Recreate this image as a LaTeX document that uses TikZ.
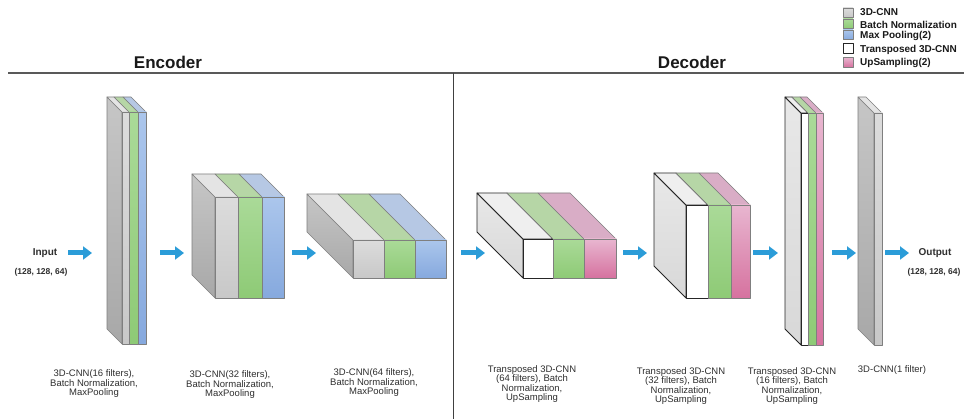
\documentclass[tikz,border=0pt]{standalone}
\usepackage{fontspec}
\setmainfont{Liberation Sans}
\usetikzlibrary{arrows.meta}
\definecolor{arrowblue}{HTML}{2B9CD8}
\definecolor{edgec}{HTML}{7F7F7F}
\definecolor{txt}{HTML}{2F2F2F}
\definecolor{gsA}{HTML}{C6C6C6}\definecolor{gsB}{HTML}{A8A8A8}
\definecolor{gfA}{HTML}{DCDCDC}\definecolor{gfB}{HTML}{C8C8C8}
\definecolor{gtA}{HTML}{E4E4E4}
\definecolor{nfA}{HTML}{AADA98}\definecolor{nfB}{HTML}{8ECA76}
\definecolor{ntA}{HTML}{B6D6A6}
\definecolor{bfA}{HTML}{ABC6EC}\definecolor{bfB}{HTML}{86A9DE}
\definecolor{btA}{HTML}{B6C8E4}
\definecolor{wsA}{HTML}{E8E8E8}\definecolor{wsB}{HTML}{D8D8D8}
\definecolor{wtA}{HTML}{EFEFEF}
\definecolor{pfA}{HTML}{E8B6D0}\definecolor{pfB}{HTML}{D6729F}
\definecolor{ptA}{HTML}{D9ADC6}
\newcommand\slab[6]{%
  \path[#6top] (#1,#3) -- (#1-#5,#3-#5) -- (#2-#5,#3-#5) -- (#2,#3) -- cycle;
  \path[#6front] (#1,#3) rectangle (#2,#4);}
\newcommand\slabside[5]{%
  \path[#5side] (#1,#2) -- (#1-#4,#2-#4) -- (#1-#4,#3-#4) -- (#1,#3) -- cycle;}
\tikzset{
  edge/.style={draw=edgec, line width=0.6pt, line join=round},
  wedge/.style={draw=black!85, line width=0.8pt, line join=round},
  Gside/.style={edge, top color=gsA, bottom color=gsB},
  Gfront/.style={edge, top color=gfA, bottom color=gfB},
  Gtop/.style={edge, fill=gtA},
  Nfront/.style={edge, top color=nfA, bottom color=nfB},
  Ntop/.style={edge, fill=ntA},
  Bfront/.style={edge, top color=bfA, bottom color=bfB},
  Btop/.style={edge, fill=btA},
  Wside/.style={wedge, top color=wsA, bottom color=wsB},
  Wfront/.style={wedge, fill=white},
  Wtop/.style={wedge, fill=wtA},
  Pfront/.style={edge, top color=pfA, bottom color=pfB},
  Ptop/.style={edge, fill=ptA},
  arr/.style={draw=arrowblue, line width=5pt, -{Triangle[width=13pt,length=9pt]}},
  lbl/.style={text=txt, font=\fontsize{9.5}{9.5}\selectfont, align=center, inner sep=0pt},
  hdr/.style={text=black!90, font=\fontsize{17}{17}\selectfont\bfseries, inner sep=0pt},
  io/.style={text=txt, font=\fontsize{10}{10}\selectfont\bfseries, inner sep=0pt},
  dim/.style={text=txt, font=\fontsize{8.5}{8.5}\selectfont\bfseries, inner sep=0pt},
  leg/.style={text=black!90, font=\fontsize{10}{10}\selectfont\bfseries, anchor=west, inner sep=0pt},
}
\begin{document}
\begin{tikzpicture}[x=1pt,y=-1pt]
\useasboundingbox[fill=white] (0,0) rectangle (964,419);
% frame lines
\coordinate (hl) at (8,73); \coordinate (hr) at (964,73);
\coordinate (vt) at (453,73); \coordinate (vb) at (453,419);
\draw[draw=black!65, line width=1.6pt] (hl) -- (hr);
\draw[draw=black!75, line width=1pt] (vt) -- (vb);
% headers
\node[hdr] (enc) at (168,62) {Encoder};
\node[hdr] (dec) at (692,62) {Decoder};
% legend
\path[Gfront] (843,8) rectangle (853,17);
\path[Nfront] (843,19) rectangle (853,28.5);
\path[Bfront] (843,30) rectangle (853,39.5);
\path[Wfront, line width=0.6pt] (843,43.5) rectangle (853,53);
\path[Pfront] (843,57.5) rectangle (853,67);
\node[leg] (l1) at (860,12) {3D-CNN};
\node[leg] (l2) at (860,24.5) {Batch Normalization};
\node[leg] (l3) at (860,36) {Max Pooling(2)};
\node[leg] (l4) at (860,49.5) {Transposed 3D-CNN};
\node[leg] (l5) at (860,62.5) {UpSampling(2)};
% block 1
\slabside{122}{112}{344}{15}{G}
\slab{122}{129}{112}{344}{15}{G}
\slab{129}{138}{112}{344}{15}{N}
\slab{138}{146}{112}{344}{15}{B}
% block 2
\slabside{215}{197}{298}{23}{G}
\slab{215}{238}{197}{298}{23}{G}
\slab{238}{262}{197}{298}{23}{N}
\slab{262}{284}{197}{298}{23}{B}
% block 3
\slabside{353}{240}{278}{46}{G}
\slab{353}{384}{240}{278}{46}{G}
\slab{384}{415}{240}{278}{46}{N}
\slab{415}{446}{240}{278}{46}{B}
% block 4
\slabside{523}{239}{278}{46}{W}
\slab{523}{553}{239}{278}{46}{W}
\slab{553}{584}{239}{278}{46}{N}
\slab{584}{616}{239}{278}{46}{P}
% block 5
\slabside{686}{205}{298}{32}{W}
\slab{686}{708}{205}{298}{32}{W}
\slab{708}{731}{205}{298}{32}{N}
\slab{731}{750}{205}{298}{32}{P}
% block 6
\slabside{801}{113}{345}{16}{W}
\slab{801}{808}{113}{345}{16}{W}
\slab{808}{816}{113}{345}{16}{N}
\slab{816}{823}{113}{345}{16}{P}
% block 7
\slabside{874}{113}{345}{16}{G}
\slab{874}{882}{113}{345}{16}{G}
% input / output
\node[io] (in) at (45,253) {Input};
\node[dim] (indim) at (41,272) {(128, 128, 64)};
\node[io] (out) at (935,253) {Output};
\node[dim] (outdim) at (934,272) {(128, 128, 64)};
% arrows
\coordinate (a1s) at (68,253);  \coordinate (a1e) at (92,253);
\coordinate (a2s) at (160,253); \coordinate (a2e) at (184,253);
\coordinate (a3s) at (292,253); \coordinate (a3e) at (316,253);
\coordinate (a4s) at (461,253); \coordinate (a4e) at (485,253);
\coordinate (a5s) at (623,253); \coordinate (a5e) at (647,253);
\coordinate (a6s) at (753,253); \coordinate (a6e) at (778,253);
\coordinate (a7s) at (832,253); \coordinate (a7e) at (856,253);
\coordinate (a8s) at (885,253); \coordinate (a8e) at (909,253);
\foreach \i in {1,...,8} {\draw[arr] (a\i s) -- (a\i e);}
% captions
\node[lbl] (c1) at (94,384) {3D-CNN(16 filters),\\Batch Normalization,\\MaxPooling};
\node[lbl] (c2) at (230,385) {3D-CNN(32 filters),\\Batch Normalization,\\MaxPooling};
\node[lbl] (c3) at (374,383) {3D-CNN(64 filters),\\Batch Normalization,\\MaxPooling};
\node[lbl] (c4) at (532,384) {Transposed 3D-CNN\\(64 filters), Batch\\Normalization,\\UpSampling};
\node[lbl] (c5) at (681,386) {Transposed 3D-CNN\\(32 filters), Batch\\Normalization,\\UpSampling};
\node[lbl] (c6) at (792,386) {Transposed 3D-CNN\\(16 filters), Batch\\Normalization,\\UpSampling};
\node[lbl] (c7) at (892,370) {3D-CNN(1 filter)};
\end{tikzpicture}
\end{document}
